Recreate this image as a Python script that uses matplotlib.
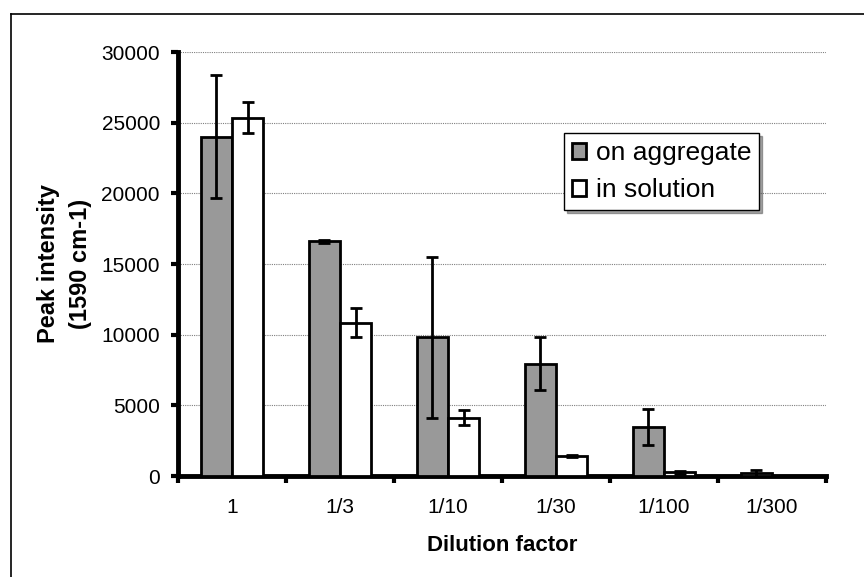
import numpy as np
import matplotlib.pyplot as plt
from matplotlib.lines import Line2D

# values
dilutions = ['1', '1/3', '1/10', '1/30', '1/100', '1/300']
on_aggregate = [24000, 16600, 9800, 7950, 3450, 200]
on_aggregate_err = [4350, 80, 5700, 1850, 1270, 250]
in_solution = [25350, 10850, 4130, 1400, 250, 30]
in_solution_err = [1100, 1010, 510, 80, 100, 0]
yticks = [0, 5000, 10000, 15000, 20000, 25000, 30000]

plt.rcParams['font.family'] = ['Liberation Sans', 'DejaVu Sans']

fig = plt.figure(figsize=(8.64, 5.77), dpi=100)
ax = fig.add_axes([178/864, 1 - 476/577, 648/864, 424/577])

x = np.arange(len(dilutions))
w = 0.29
ekw = dict(ecolor='black', elinewidth=2, capsize=4.5, capthick=2)
ax.bar(x - w/2, on_aggregate, w, yerr=on_aggregate_err, color='#999999',
       edgecolor='black', linewidth=2, error_kw=ekw, label='on aggregate', zorder=3)
ax.bar(x + w/2, in_solution, w, yerr=in_solution_err, color='white',
       edgecolor='black', linewidth=2, error_kw=ekw, label='in solution', zorder=3)

ax.set_xlim(-0.5, len(dilutions) - 0.5)
ax.set_ylim(0, 30000)
ax.set_yticks(yticks)
ax.set_yticklabels([str(t) for t in yticks], fontsize=15)
ax.yaxis.grid(True, color='#808080', linestyle=(0, (1, 1)), linewidth=0.8, zorder=0)

# ticks between groups, labels in the middle
ax.set_xticks(np.arange(len(dilutions) + 1) - 0.5)
ax.set_xticklabels([])
ax.set_xticks(x, minor=True)
ax.set_xticklabels(dilutions, minor=True, fontsize=15)
ax.tick_params(axis='x', which='major', direction='out', length=5, width=3)
ax.tick_params(axis='x', which='minor', length=0, pad=16)
ax.tick_params(axis='y', direction='out', length=5, width=3, pad=8)

for s in ['top', 'right']:
    ax.spines[s].set_visible(False)
for s in ['left', 'bottom']:
    ax.spines[s].set_linewidth(3.5)

ax.set_xlabel('Dilution factor', fontsize=16, fontweight='bold', labelpad=13)
ax.set_ylabel('Peak intensity\n(1590 cm-1)', fontsize=17, fontweight='bold',
              labelpad=7, linespacing=1.5)

leg = ax.legend(loc='upper left', bbox_to_anchor=((564 - 178) / 648, 1 - (133 - 52) / 424),
                fontsize=19, frameon=True, fancybox=False, shadow=True,
                handlelength=0.55, handleheight=0.55, handletextpad=0.35,
                borderpad=0.3, labelspacing=0.5, borderaxespad=0)
leg.get_frame().set_edgecolor('black')
leg.get_frame().set_linewidth(1)

# outer chart-area border (left and top visible)
fig.add_artist(Line2D([11/864, 11/864], [0, 1 - 14/577], color='black', lw=1.2,
                      transform=fig.transFigure))
fig.add_artist(Line2D([11/864, 1], [1 - 14/577, 1 - 14/577], color='black', lw=1.2,
                      transform=fig.transFigure))

fig.savefig('out.png', dpi=100)
